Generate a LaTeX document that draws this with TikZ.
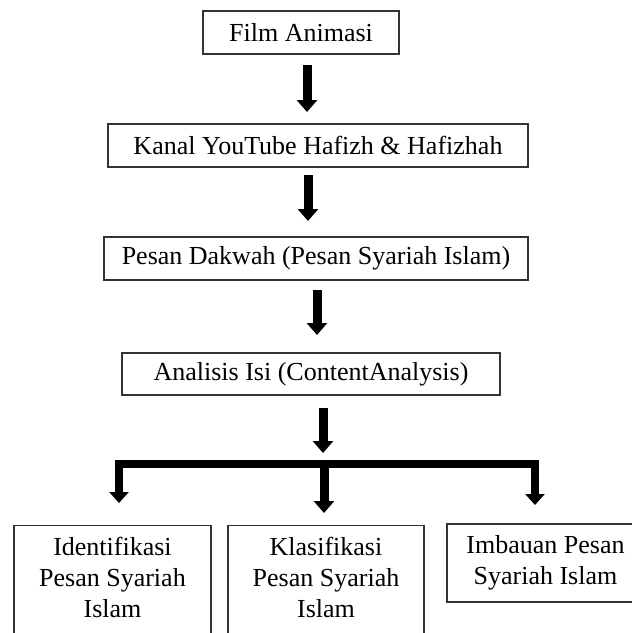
\documentclass[tikz,border=0pt]{standalone}
\usepackage{fontspec}
\setmainfont{Liberation Serif}
\usetikzlibrary{arrows.meta}
\begin{document}
\begin{tikzpicture}[x=1pt,y=-1pt,
  box/.style={draw=black!80, line width=1.3pt, inner sep=0pt, font=\fontsize{26}{31}\selectfont, align=center},
  txt/.style={inner sep=0pt, align=center, font=\fontsize{26}{31}\selectfont},
  arr/.style={line width=9pt, -{Triangle[width=20pt,length=12pt]}},
  brk/.style={line width=8pt, line join=miter, {Triangle[width=19pt,length=11pt]}-{Triangle[width=19pt,length=11pt]}}]
\useasboundingbox (0,0) rectangle (632,633);
\clip (0,0) rectangle (632,633);
% boxes
\node[box, minimum width=196pt, minimum height=43pt] (b1) at (301,32.5) {Film Animasi};
\node[box, minimum width=420pt, minimum height=43pt] (b2) at (318,145.5) {Kanal YouTube Hafizh \& Hafizhah};
\node[box, minimum width=424pt, minimum height=43pt] (b3) at (316,258.5) {Pesan Dakwah (Pesan Syariah Islam)};
\node[box, minimum width=378pt, minimum height=42pt] (b4) at (311,374) {Analisis Isi (ContentAnalysis)};
\node[box, minimum width=197pt, minimum height=130pt, anchor=north] (b5) at (112.5,525) {};
\node[txt] (t5) at (112.5,577) {Identifikasi\\Pesan Syariah\\Islam};
\node[box, minimum width=196pt, minimum height=130pt, anchor=north] (b6) at (326,525) {};
\node[txt] (t6) at (326,577) {Klasifikasi\\Pesan Syariah\\Islam};
\node[box, minimum width=197pt, minimum height=78pt] (b7) at (545.5,563) {Imbauan Pesan\\Syariah Islam};
% arrow end points
\coordinate (a1s) at (307,65);  \coordinate (a1e) at (307,112);
\coordinate (a2s) at (308,175); \coordinate (a2e) at (308,221);
\coordinate (a3s) at (317,290); \coordinate (a3e) at (317,335);
\coordinate (a4s) at (323,408); \coordinate (a4e) at (323,453);
\coordinate (bl) at (119,503); \coordinate (blc) at (119,464);
\coordinate (brc) at (535,464); \coordinate (br) at (535,505);
\coordinate (ms) at (324,464); \coordinate (me) at (324,513);
% connectors
\draw[arr] (a1s) -- (a1e);
\draw[arr] (a2s) -- (a2e);
\draw[arr] (a3s) -- (a3e);
\draw[arr] (a4s) -- (a4e);
\draw[brk] (bl) -- (blc) -- (brc) -- (br);
\draw[arr] (ms) -- (me);
\end{tikzpicture}
\end{document}
